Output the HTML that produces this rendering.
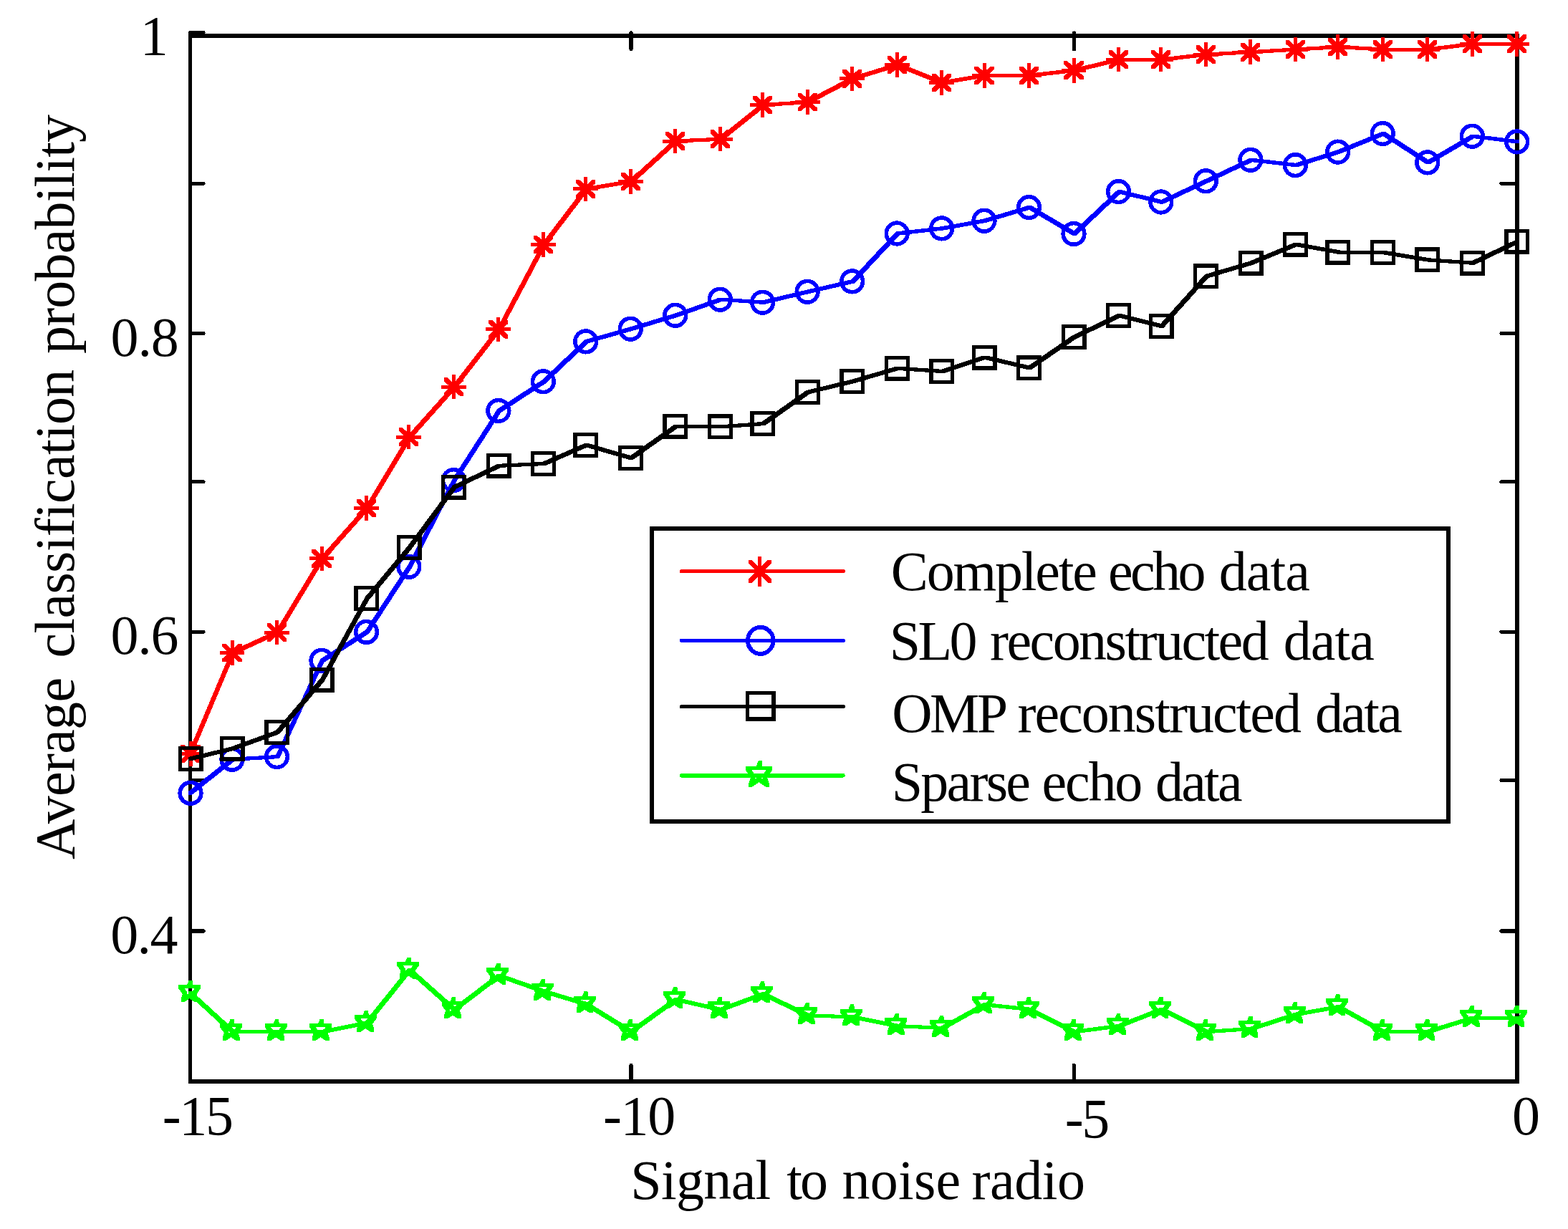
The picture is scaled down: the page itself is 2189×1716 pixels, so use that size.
<!DOCTYPE html>
<html lang="en"><head><meta charset="utf-8"><title>Average classification probability vs signal to noise radio</title>
<style>html,body{margin:0;padding:0;background:#fff}body{width:2189px;height:1716px}svg{display:block}text{font-family:"Liberation Serif","Times New Roman",Times,serif;font-size:78px;fill:#000}</style></head><body>
<svg width="2189" height="1716" viewBox="0 0 2189 1716" shape-rendering="crispEdges">
<rect x="0" y="0" width="2189" height="1716" fill="#fff"/>
<defs>
<path id="ma" d="M-17.40,-2.50L17.40,-2.50L17.40,2.50L-17.40,2.50ZM-2.50,-17.20L2.50,-17.20L2.50,17.20L-2.50,17.20ZM-13.55,-12.85L-8.75,-12.85L13.55,8.05L13.55,12.85L8.75,12.85L-13.55,-8.05ZM-13.55,8.05L8.75,-12.85L13.55,-12.85L13.55,-8.05L-8.75,12.85L-13.55,12.85Z" fill="#f00" stroke="none"/>
<circle id="mc" cx="0" cy="0" r="14.85" fill="none" stroke="#00f" stroke-width="5.6"/>
<rect id="ms" x="-14.85" y="-14.85" width="29.7" height="29.7" fill="none" stroke="#000" stroke-width="5.3"/>
<path id="mp" d="M-2.30,-18.60L2.70,-18.60L3.15,-12.35L3.15,-7.35L-1.85,-7.35L-2.30,-13.60ZM-1.85,-12.35L3.15,-12.35L14.15,-12.35L14.15,-7.35L9.15,-7.35L-1.85,-7.35ZM2.40,-3.00L9.15,-12.35L14.15,-12.35L14.15,-7.35L7.40,2.00L2.40,2.00ZM2.40,-3.00L7.40,-3.00L10.55,6.40L10.55,11.40L5.55,11.40L2.40,2.00ZM-3.85,0.15L1.15,0.15L10.55,6.40L10.55,11.40L5.55,11.40L-3.85,5.15ZM-13.25,6.40L-3.85,0.15L1.15,0.15L1.15,5.15L-8.25,11.40L-13.25,11.40ZM-13.25,6.40L-10.10,-3.00L-5.10,-3.00L-5.10,2.00L-8.25,11.40L-13.25,11.40ZM-16.85,-12.35L-11.85,-12.35L-5.10,-3.00L-5.10,2.00L-10.10,2.00L-16.85,-7.35ZM-16.85,-12.35L-11.85,-12.35L-0.05,-12.35L-0.05,-7.35L-5.05,-7.35L-16.85,-7.35ZM-5.05,-12.35L-2.30,-18.60L2.70,-18.60L2.70,-13.60L-0.05,-7.35L-5.05,-7.35Z" fill="#0f0" stroke="none"/>
</defs>
<g id="axes" stroke="#000" fill="none">
<line x1="263.1" y1="50.0" x2="2120.9" y2="50.0" stroke-width="6.0"/>
<line x1="263.1" y1="1509.8" x2="2120.9" y2="1509.8" stroke-width="6.3"/>
<line x1="265.6" y1="50.0" x2="265.6" y2="1509.8" stroke-width="5.0"/>
<line x1="2117.9" y1="50.0" x2="2117.9" y2="1509.8" stroke-width="6.0"/>
</g>
<g id="ticks" stroke="#000" stroke-width="5.2" stroke-linecap="round" fill="none">
<line x1="265.6" y1="45.6" x2="284.0" y2="45.6"/>
<line x1="265.6" y1="256.2" x2="284.0" y2="256.2"/>
<line x1="2117.9" y1="256.2" x2="2096.0" y2="256.2"/>
<line x1="265.6" y1="465.6" x2="284.0" y2="465.6"/>
<line x1="2117.9" y1="465.6" x2="2096.0" y2="465.6"/>
<line x1="265.6" y1="672.8" x2="284.0" y2="672.8"/>
<line x1="2117.9" y1="672.8" x2="2096.0" y2="672.8"/>
<line x1="265.6" y1="882.2" x2="284.0" y2="882.2"/>
<line x1="2117.9" y1="882.2" x2="2096.0" y2="882.2"/>
<line x1="265.6" y1="1089.6" x2="284.0" y2="1089.6"/>
<line x1="2117.9" y1="1089.6" x2="2096.0" y2="1089.6"/>
<line x1="265.6" y1="1300.0" x2="284.0" y2="1300.0"/>
<line x1="2117.9" y1="1300.0" x2="2096.0" y2="1300.0"/>
<line x1="881.0" y1="1509.8" x2="881.0" y2="1487.4"/>
<line x1="881.0" y1="46.0" x2="881.0" y2="68.7"/>
<line x1="1499.5" y1="1509.8" x2="1499.5" y2="1487.4"/>
<line x1="1499.5" y1="46.0" x2="1499.5" y2="68.7"/>
</g>
<g id="red">
<path d="M263.1,1050.0L322.5,909.0L327.5,909.0L327.5,914.0L268.1,1055.0L263.1,1055.0ZM322.5,909.0L385.0,880.5L390.0,880.5L390.0,885.5L327.5,914.0L322.5,914.0ZM385.0,880.5L447.5,777.3L452.5,777.3L452.5,782.3L390.0,885.5L385.0,885.5ZM447.5,777.3L510.0,707.0L515.0,707.0L515.0,712.0L452.5,782.3L447.5,782.3ZM510.0,707.0L569.4,607.7L574.4,607.7L574.4,612.7L515.0,712.0L510.0,712.0ZM569.4,607.7L631.9,537.7L636.9,537.7L636.9,542.7L574.4,612.7L569.4,612.7ZM631.9,537.7L694.4,457.2L699.4,457.2L699.4,462.2L636.9,542.7L631.9,542.7ZM694.4,457.2L756.9,339.1L761.9,339.1L761.9,344.1L699.4,462.2L694.4,462.2ZM756.9,339.1L816.2,261.4L821.2,261.4L821.2,266.4L761.9,344.1L756.9,344.1ZM816.2,261.4L878.8,250.9L883.8,250.9L883.8,255.9L821.2,266.4L816.2,266.4ZM878.8,250.9L941.2,194.5L946.2,194.5L946.2,199.5L883.8,255.9L878.8,255.9ZM941.2,194.5L1003.8,191.7L1008.8,191.7L1008.8,196.7L946.2,199.5L941.2,199.5ZM1003.8,191.7L1063.1,144.1L1068.1,144.1L1068.1,149.1L1008.8,196.7L1003.8,196.7ZM1063.1,144.1L1125.6,140.0L1130.6,140.0L1130.6,145.0L1068.1,149.1L1063.1,149.1ZM1125.6,140.0L1188.1,107.2L1193.1,107.2L1193.1,112.2L1130.6,145.0L1125.6,145.0ZM1188.1,107.2L1250.6,88.1L1255.6,88.1L1255.6,93.1L1193.1,112.2L1188.1,112.2ZM1250.6,88.1L1255.6,88.1L1318.1,112.9L1318.1,117.9L1313.1,117.9L1250.6,93.1ZM1313.1,112.9L1372.5,102.9L1377.5,102.9L1377.5,107.9L1318.1,117.9L1313.1,117.9ZM1372.5,102.9L1377.5,102.9L1440.0,102.9L1440.0,107.9L1435.0,107.9L1372.5,107.9ZM1435.0,102.9L1497.5,95.8L1502.5,95.8L1502.5,100.8L1440.0,107.9L1435.0,107.9ZM1497.5,95.8L1560.0,80.7L1565.0,80.7L1565.0,85.7L1502.5,100.8L1497.5,100.8ZM1560.0,80.7L1565.0,80.7L1624.4,80.7L1624.4,85.7L1619.4,85.7L1560.0,85.7ZM1619.4,80.7L1681.9,73.6L1686.9,73.6L1686.9,78.6L1624.4,85.7L1619.4,85.7ZM1681.9,73.6L1744.4,70.2L1749.4,70.2L1749.4,75.2L1686.9,78.6L1681.9,78.6ZM1744.4,70.2L1806.9,66.5L1811.9,66.5L1811.9,71.5L1749.4,75.2L1744.4,75.2ZM1806.9,66.5L1866.2,63.1L1871.2,63.1L1871.2,68.1L1811.9,71.5L1806.9,71.5ZM1866.2,63.1L1871.2,63.1L1933.8,66.5L1933.8,71.5L1928.8,71.5L1866.2,68.1ZM1928.8,66.5L1933.8,66.5L1996.2,66.5L1996.2,71.5L1991.2,71.5L1928.8,71.5ZM1991.2,66.5L2053.8,58.8L2058.8,58.8L2058.8,63.8L1996.2,71.5L1991.2,71.5ZM2053.8,58.8L2058.8,58.8L2121.2,58.8L2121.2,63.8L2116.2,63.8L2053.8,63.8Z" fill="#f00" stroke="none"/>
<use href="#ma" x="266.02" y="1052.50"/>
<use href="#ma" x="324.00" y="911.50"/>
<use href="#ma" x="386.50" y="883.00"/>
<use href="#ma" x="449.00" y="779.80"/>
<use href="#ma" x="511.50" y="709.50"/>
<use href="#ma" x="570.88" y="610.20"/>
<use href="#ma" x="633.38" y="540.20"/>
<use href="#ma" x="695.88" y="459.70"/>
<use href="#ma" x="758.38" y="341.60"/>
<use href="#ma" x="817.75" y="263.90"/>
<use href="#ma" x="880.25" y="253.40"/>
<use href="#ma" x="942.75" y="197.00"/>
<use href="#ma" x="1005.25" y="194.20"/>
<use href="#ma" x="1064.62" y="146.60"/>
<use href="#ma" x="1127.12" y="142.50"/>
<use href="#ma" x="1189.62" y="109.70"/>
<use href="#ma" x="1252.12" y="90.60"/>
<use href="#ma" x="1314.62" y="115.40"/>
<use href="#ma" x="1374.00" y="105.40"/>
<use href="#ma" x="1436.50" y="105.40"/>
<use href="#ma" x="1499.00" y="98.30"/>
<use href="#ma" x="1561.50" y="83.20"/>
<use href="#ma" x="1620.88" y="83.20"/>
<use href="#ma" x="1683.38" y="76.10"/>
<use href="#ma" x="1745.88" y="72.70"/>
<use href="#ma" x="1808.38" y="69.00"/>
<use href="#ma" x="1867.75" y="65.60"/>
<use href="#ma" x="1930.25" y="69.00"/>
<use href="#ma" x="1992.75" y="69.00"/>
<use href="#ma" x="2055.25" y="61.30"/>
<use href="#ma" x="2117.75" y="61.30"/>
</g>
<g id="blue">
<path d="M263.1,1104.8L322.5,1057.8L327.5,1057.8L327.5,1062.8L268.1,1109.8L263.1,1109.8ZM322.5,1057.8L385.0,1054.1L390.0,1054.1L390.0,1059.1L327.5,1062.8L322.5,1062.8ZM385.0,1054.1L447.5,919.8L452.5,919.8L452.5,924.8L390.0,1059.1L385.0,1059.1ZM447.5,919.8L510.0,879.9L515.0,879.9L515.0,884.9L452.5,924.8L447.5,924.8ZM510.0,879.9L569.4,788.8L574.4,788.8L574.4,793.8L515.0,884.9L510.0,884.9ZM569.4,788.8L631.9,668.0L636.9,668.0L636.9,673.0L574.4,793.8L569.4,793.8ZM631.9,668.0L694.4,571.0L699.4,571.0L699.4,576.0L636.9,673.0L631.9,673.0ZM694.4,571.0L756.9,530.3L761.9,530.3L761.9,535.3L699.4,576.0L694.4,576.0ZM756.9,530.3L816.2,474.4L821.2,474.4L821.2,479.4L761.9,535.3L756.9,535.3ZM816.2,474.4L878.8,456.7L883.8,456.7L883.8,461.7L821.2,479.4L816.2,479.4ZM878.8,456.7L941.2,437.8L946.2,437.8L946.2,442.8L883.8,461.7L878.8,461.7ZM941.2,437.8L1003.8,415.7L1008.8,415.7L1008.8,420.7L946.2,442.8L941.2,442.8ZM1003.8,415.7L1008.8,415.7L1068.1,419.7L1068.1,424.7L1063.1,424.7L1003.8,420.7ZM1063.1,419.7L1125.6,404.8L1130.6,404.8L1130.6,409.8L1068.1,424.7L1063.1,424.7ZM1125.6,404.8L1188.1,390.4L1193.1,390.4L1193.1,395.4L1130.6,409.8L1125.6,409.8ZM1188.1,390.4L1250.6,323.5L1255.6,323.5L1255.6,328.5L1193.1,395.4L1188.1,395.4ZM1250.6,323.5L1313.1,316.4L1318.1,316.4L1318.1,321.4L1255.6,328.5L1250.6,328.5ZM1313.1,316.4L1372.5,305.7L1377.5,305.7L1377.5,310.7L1318.1,321.4L1313.1,321.4ZM1372.5,305.7L1435.0,287.0L1440.0,287.0L1440.0,292.0L1377.5,310.7L1372.5,310.7ZM1435.0,287.0L1440.0,287.0L1502.5,324.0L1502.5,329.0L1497.5,329.0L1435.0,292.0ZM1497.5,324.0L1560.0,265.1L1565.0,265.1L1565.0,270.1L1502.5,329.0L1497.5,329.0ZM1560.0,265.1L1565.0,265.1L1624.4,279.5L1624.4,284.5L1619.4,284.5L1560.0,270.1ZM1619.4,279.5L1681.9,250.3L1686.9,250.3L1686.9,255.3L1624.4,284.5L1619.4,284.5ZM1681.9,250.3L1744.4,220.8L1749.4,220.8L1749.4,225.8L1686.9,255.3L1681.9,255.3ZM1744.4,220.8L1749.4,220.8L1811.9,228.1L1811.9,233.1L1806.9,233.1L1744.4,225.8ZM1806.9,228.1L1866.2,209.6L1871.2,209.6L1871.2,214.6L1811.9,233.1L1806.9,233.1ZM1866.2,209.6L1928.8,184.0L1933.8,184.0L1933.8,189.0L1871.2,214.6L1866.2,214.6ZM1928.8,184.0L1933.8,184.0L1996.2,224.4L1996.2,229.4L1991.2,229.4L1928.8,189.0ZM1991.2,224.4L2053.8,187.7L2058.8,187.7L2058.8,192.7L1996.2,229.4L1991.2,229.4ZM2053.8,187.7L2058.8,187.7L2121.2,195.4L2121.2,200.4L2116.2,200.4L2053.8,192.7Z" fill="#00f" stroke="none"/>
<use href="#mc" x="266.02" y="1107.30"/>
<use href="#mc" x="324.00" y="1060.30"/>
<use href="#mc" x="386.50" y="1056.60"/>
<use href="#mc" x="449.00" y="922.30"/>
<use href="#mc" x="511.50" y="882.40"/>
<use href="#mc" x="570.88" y="791.30"/>
<use href="#mc" x="633.38" y="670.50"/>
<use href="#mc" x="695.88" y="573.50"/>
<use href="#mc" x="758.38" y="532.80"/>
<use href="#mc" x="817.75" y="476.90"/>
<use href="#mc" x="880.25" y="459.20"/>
<use href="#mc" x="942.75" y="440.30"/>
<use href="#mc" x="1005.25" y="418.20"/>
<use href="#mc" x="1064.62" y="422.20"/>
<use href="#mc" x="1127.12" y="407.30"/>
<use href="#mc" x="1189.62" y="392.90"/>
<use href="#mc" x="1252.12" y="326.00"/>
<use href="#mc" x="1314.62" y="318.90"/>
<use href="#mc" x="1374.00" y="308.20"/>
<use href="#mc" x="1436.50" y="289.50"/>
<use href="#mc" x="1499.00" y="326.50"/>
<use href="#mc" x="1561.50" y="267.60"/>
<use href="#mc" x="1620.88" y="282.00"/>
<use href="#mc" x="1683.38" y="252.80"/>
<use href="#mc" x="1745.88" y="223.30"/>
<use href="#mc" x="1808.38" y="230.60"/>
<use href="#mc" x="1867.75" y="212.10"/>
<use href="#mc" x="1930.25" y="186.50"/>
<use href="#mc" x="1992.75" y="226.90"/>
<use href="#mc" x="2055.25" y="190.20"/>
<use href="#mc" x="2117.75" y="197.90"/>
</g>
<g id="black">
<path d="M263.1,1057.0L322.5,1042.7L327.5,1042.7L327.5,1047.7L268.1,1062.0L263.1,1062.0ZM322.5,1042.7L385.0,1019.9L390.0,1019.9L390.0,1024.9L327.5,1047.7L322.5,1047.7ZM385.0,1019.9L447.5,946.8L452.5,946.8L452.5,951.8L390.0,1024.9L385.0,1024.9ZM447.5,946.8L510.0,833.1L515.0,833.1L515.0,838.1L452.5,951.8L447.5,951.8ZM510.0,833.1L569.4,762.0L574.4,762.0L574.4,767.0L515.0,838.1L510.0,838.1ZM569.4,762.0L631.9,677.7L636.9,677.7L636.9,682.7L574.4,767.0L569.4,767.0ZM631.9,677.7L694.4,647.8L699.4,647.8L699.4,652.8L636.9,682.7L631.9,682.7ZM694.4,647.8L756.9,645.0L761.9,645.0L761.9,650.0L699.4,652.8L694.4,652.8ZM756.9,645.0L816.2,618.9L821.2,618.9L821.2,623.9L761.9,650.0L756.9,650.0ZM816.2,618.9L821.2,618.9L883.8,637.0L883.8,642.0L878.8,642.0L816.2,623.9ZM878.8,637.0L941.2,592.8L946.2,592.8L946.2,597.8L883.8,642.0L878.8,642.0ZM941.2,592.8L946.2,592.8L1008.8,593.4L1008.8,598.4L1003.8,598.4L941.2,597.8ZM1003.8,593.4L1063.1,589.1L1068.1,589.1L1068.1,594.1L1008.8,598.4L1003.8,598.4ZM1063.1,589.1L1125.6,545.0L1130.6,545.0L1130.6,550.0L1068.1,594.1L1063.1,594.1ZM1125.6,545.0L1188.1,530.0L1193.1,530.0L1193.1,535.0L1130.6,550.0L1125.6,550.0ZM1188.1,530.0L1250.6,511.8L1255.6,511.8L1255.6,516.8L1193.1,535.0L1188.1,535.0ZM1250.6,511.8L1255.6,511.8L1318.1,516.0L1318.1,521.0L1313.1,521.0L1250.6,516.8ZM1313.1,516.0L1372.5,496.5L1377.5,496.5L1377.5,501.5L1318.1,521.0L1313.1,521.0ZM1372.5,496.5L1377.5,496.5L1440.0,511.2L1440.0,516.2L1435.0,516.2L1372.5,501.5ZM1435.0,511.2L1497.5,468.0L1502.5,468.0L1502.5,473.0L1440.0,516.2L1435.0,516.2ZM1497.5,468.0L1560.0,438.1L1565.0,438.1L1565.0,443.1L1502.5,473.0L1497.5,473.0ZM1560.0,438.1L1565.0,438.1L1624.4,452.9L1624.4,457.9L1619.4,457.9L1560.0,443.1ZM1619.4,452.9L1681.9,383.2L1686.9,383.2L1686.9,388.2L1624.4,457.9L1619.4,457.9ZM1681.9,383.2L1744.4,364.7L1749.4,364.7L1749.4,369.7L1686.9,388.2L1681.9,388.2ZM1744.4,364.7L1806.9,338.8L1811.9,338.8L1811.9,343.8L1749.4,369.7L1744.4,369.7ZM1806.9,338.8L1811.9,338.8L1871.2,349.5L1871.2,354.5L1866.2,354.5L1806.9,343.8ZM1866.2,349.5L1871.2,349.5L1933.8,349.9L1933.8,354.9L1928.8,354.9L1866.2,354.5ZM1928.8,349.9L1933.8,349.9L1996.2,360.4L1996.2,365.4L1991.2,365.4L1928.8,354.9ZM1991.2,360.4L1996.2,360.4L2058.8,364.7L2058.8,369.7L2053.8,369.7L1991.2,365.4ZM2053.8,364.7L2116.2,334.8L2121.2,334.8L2121.2,339.8L2058.8,369.7L2053.8,369.7Z" fill="#000" stroke="none"/>
<use href="#ms" x="266.22" y="1059.50"/>
<use href="#ms" x="324.20" y="1045.20"/>
<use href="#ms" x="386.70" y="1022.40"/>
<use href="#ms" x="449.20" y="949.30"/>
<use href="#ms" x="511.70" y="835.60"/>
<use href="#ms" x="571.08" y="764.50"/>
<use href="#ms" x="633.58" y="680.20"/>
<use href="#ms" x="696.08" y="650.30"/>
<use href="#ms" x="758.58" y="647.50"/>
<use href="#ms" x="817.95" y="621.40"/>
<use href="#ms" x="880.45" y="639.50"/>
<use href="#ms" x="942.95" y="595.30"/>
<use href="#ms" x="1005.45" y="595.90"/>
<use href="#ms" x="1064.83" y="591.60"/>
<use href="#ms" x="1127.33" y="547.50"/>
<use href="#ms" x="1189.83" y="532.50"/>
<use href="#ms" x="1252.33" y="514.30"/>
<use href="#ms" x="1314.83" y="518.50"/>
<use href="#ms" x="1374.20" y="499.00"/>
<use href="#ms" x="1436.70" y="513.70"/>
<use href="#ms" x="1499.20" y="470.50"/>
<use href="#ms" x="1561.70" y="440.60"/>
<use href="#ms" x="1621.08" y="455.40"/>
<use href="#ms" x="1683.58" y="385.70"/>
<use href="#ms" x="1746.08" y="367.20"/>
<use href="#ms" x="1808.58" y="341.30"/>
<use href="#ms" x="1867.95" y="352.00"/>
<use href="#ms" x="1930.45" y="352.45"/>
<use href="#ms" x="1992.95" y="362.90"/>
<use href="#ms" x="2055.45" y="367.20"/>
<use href="#ms" x="2117.95" y="337.30"/>
</g>
<g id="green">
<path d="M263.1,1384.0L268.1,1384.0L327.5,1438.1L327.5,1443.1L322.5,1443.1L263.1,1389.0ZM322.5,1438.1L327.5,1438.1L390.0,1438.1L390.0,1443.1L385.0,1443.1L322.5,1443.1ZM385.0,1438.1L390.0,1438.1L452.5,1438.1L452.5,1443.1L447.5,1443.1L385.0,1443.1ZM447.5,1438.1L510.0,1425.8L515.0,1425.8L515.0,1430.8L452.5,1443.1L447.5,1443.1ZM510.0,1425.8L569.4,1351.8L574.4,1351.8L574.4,1356.8L515.0,1430.8L510.0,1430.8ZM569.4,1351.8L574.4,1351.8L636.9,1407.3L636.9,1412.3L631.9,1412.3L569.4,1356.8ZM631.9,1407.3L694.4,1359.8L699.4,1359.8L699.4,1364.8L636.9,1412.3L631.9,1412.3ZM694.4,1359.8L699.4,1359.8L761.9,1381.7L761.9,1386.7L756.9,1386.7L694.4,1364.8ZM756.9,1381.7L761.9,1381.7L821.2,1399.6L821.2,1404.6L816.2,1404.6L756.9,1386.7ZM816.2,1399.6L821.2,1399.6L883.8,1438.1L883.8,1443.1L878.8,1443.1L816.2,1404.6ZM878.8,1438.1L941.2,1393.1L946.2,1393.1L946.2,1398.1L883.8,1443.1L878.8,1443.1ZM941.2,1393.1L946.2,1393.1L1008.8,1407.3L1008.8,1412.3L1003.8,1412.3L941.2,1398.1ZM1003.8,1407.3L1063.1,1385.4L1068.1,1385.4L1068.1,1390.4L1008.8,1412.3L1003.8,1412.3ZM1063.1,1385.4L1068.1,1385.4L1130.6,1415.3L1130.6,1420.3L1125.6,1420.3L1063.1,1390.4ZM1125.6,1415.3L1130.6,1415.3L1193.1,1417.5L1193.1,1422.5L1188.1,1422.5L1125.6,1420.3ZM1188.1,1417.5L1193.1,1417.5L1255.6,1430.1L1255.6,1435.1L1250.6,1435.1L1188.1,1422.5ZM1250.6,1430.1L1255.6,1430.1L1318.1,1432.9L1318.1,1437.9L1313.1,1437.9L1250.6,1435.1ZM1313.1,1432.9L1372.5,1400.2L1377.5,1400.2L1377.5,1405.2L1318.1,1437.9L1313.1,1437.9ZM1372.5,1400.2L1377.5,1400.2L1440.0,1406.8L1440.0,1411.8L1435.0,1411.8L1372.5,1405.2ZM1435.0,1406.8L1440.0,1406.8L1502.5,1438.1L1502.5,1443.1L1497.5,1443.1L1435.0,1411.8ZM1497.5,1438.1L1560.0,1430.1L1565.0,1430.1L1565.0,1435.1L1502.5,1443.1L1497.5,1443.1ZM1560.0,1430.1L1619.4,1406.8L1624.4,1406.8L1624.4,1411.8L1565.0,1435.1L1560.0,1435.1ZM1619.4,1406.8L1624.4,1406.8L1686.9,1438.1L1686.9,1443.1L1681.9,1443.1L1619.4,1411.8ZM1681.9,1438.1L1744.4,1434.0L1749.4,1434.0L1749.4,1439.0L1686.9,1443.1L1681.9,1443.1ZM1744.4,1434.0L1806.9,1413.9L1811.9,1413.9L1811.9,1418.9L1749.4,1439.0L1744.4,1439.0ZM1806.9,1413.9L1866.2,1403.3L1871.2,1403.3L1871.2,1408.3L1811.9,1418.9L1806.9,1418.9ZM1866.2,1403.3L1871.2,1403.3L1933.8,1438.1L1933.8,1443.1L1928.8,1443.1L1866.2,1408.3ZM1928.8,1438.1L1933.8,1438.1L1996.2,1438.1L1996.2,1443.1L1991.2,1443.1L1928.8,1443.1ZM1991.2,1438.1L2053.8,1418.7L2058.8,1418.7L2058.8,1423.7L1996.2,1443.1L1991.2,1443.1ZM2053.8,1418.7L2058.8,1418.7L2121.2,1418.7L2121.2,1423.7L2116.2,1423.7L2053.8,1423.7Z" fill="#0f0" stroke="none"/>
<use href="#mp" x="266.02" y="1387.50"/>
<use href="#mp" x="324.00" y="1441.60"/>
<use href="#mp" x="386.50" y="1441.60"/>
<use href="#mp" x="449.00" y="1441.60"/>
<use href="#mp" x="511.50" y="1429.30"/>
<use href="#mp" x="570.88" y="1355.30"/>
<use href="#mp" x="633.38" y="1410.80"/>
<use href="#mp" x="695.88" y="1363.30"/>
<use href="#mp" x="758.38" y="1385.20"/>
<use href="#mp" x="817.75" y="1403.10"/>
<use href="#mp" x="880.25" y="1441.60"/>
<use href="#mp" x="942.75" y="1396.60"/>
<use href="#mp" x="1005.25" y="1410.80"/>
<use href="#mp" x="1064.62" y="1388.90"/>
<use href="#mp" x="1127.12" y="1418.80"/>
<use href="#mp" x="1189.62" y="1421.00"/>
<use href="#mp" x="1252.12" y="1433.60"/>
<use href="#mp" x="1314.62" y="1436.40"/>
<use href="#mp" x="1374.00" y="1403.70"/>
<use href="#mp" x="1436.50" y="1410.30"/>
<use href="#mp" x="1499.00" y="1441.60"/>
<use href="#mp" x="1561.50" y="1433.60"/>
<use href="#mp" x="1620.88" y="1410.30"/>
<use href="#mp" x="1683.38" y="1441.60"/>
<use href="#mp" x="1745.88" y="1437.50"/>
<use href="#mp" x="1808.38" y="1417.40"/>
<use href="#mp" x="1867.75" y="1406.80"/>
<use href="#mp" x="1930.25" y="1441.60"/>
<use href="#mp" x="1992.75" y="1441.60"/>
<use href="#mp" x="2055.25" y="1422.20"/>
<use href="#mp" x="2117.75" y="1422.20"/>
</g>
<g id="legend">
<rect x="910.4" y="738.3" width="1111.6" height="409.0" fill="#fff" stroke="#000" stroke-width="6.0"/>
<line x1="951.5" y1="797.7" x2="1177.0" y2="797.7" stroke="#f00" stroke-width="5.4" stroke-linecap="round"/>
<path d="M-15.50,-2.50L15.50,-2.50L15.50,2.50L-15.50,2.50ZM-2.50,-21.00L2.50,-21.00L2.50,21.00L-2.50,21.00ZM-16.00,-15.80L-11.20,-15.80L16.00,11.00L16.00,15.80L11.20,15.80L-16.00,-11.00ZM-16.00,11.00L11.20,-15.80L16.00,-15.80L16.00,-11.00L-11.20,15.80L-16.00,15.80Z" transform="translate(1060.8,797.7)" fill="#f00" stroke="none"/>
<line x1="951.5" y1="894.4" x2="1177.0" y2="894.4" stroke="#00f" stroke-width="5.4" stroke-linecap="round"/>
<ellipse cx="1061.75" cy="894.4" rx="17.8" ry="18.55" fill="none" stroke="#00f" stroke-width="5.9"/>
<line x1="951.5" y1="986.6" x2="1177.0" y2="986.6" stroke="#000" stroke-width="5.4" stroke-linecap="round"/>
<rect x="1043.7" y="967.6999999999999" width="36.4" height="36.4" fill="none" stroke="#000" stroke-width="5.3"/>
<line x1="951.5" y1="1082.8" x2="1177.0" y2="1082.8" stroke="#0f0" stroke-width="5.4" stroke-linecap="round"/>
<path d="M-0.55,-18.25L4.45,-18.25L5.02,-10.38L5.02,-5.38L0.02,-5.38L-0.55,-13.25ZM0.02,-10.38L5.02,-10.38L18.88,-10.38L18.88,-5.38L13.88,-5.38L0.02,-5.38ZM5.38,1.41L13.88,-10.38L18.88,-10.38L18.88,-5.38L10.38,6.41L5.38,6.41ZM5.38,1.41L10.38,1.41L14.34,13.25L14.34,18.25L9.34,18.25L5.38,6.41ZM-2.50,5.38L2.50,5.38L14.34,13.25L14.34,18.25L9.34,18.25L-2.50,10.38ZM-14.34,13.25L-2.50,5.38L2.50,5.38L2.50,10.38L-9.34,18.25L-14.34,18.25ZM-14.34,13.25L-10.38,1.41L-5.38,1.41L-5.38,6.41L-9.34,18.25L-14.34,18.25ZM-18.88,-10.38L-13.88,-10.38L-5.38,1.41L-5.38,6.41L-10.38,6.41L-18.88,-5.38ZM-18.88,-10.38L-13.88,-10.38L0.99,-10.38L0.99,-5.38L-4.01,-5.38L-18.88,-5.38ZM-4.01,-10.38L-0.55,-18.25L4.45,-18.25L4.45,-13.25L0.99,-5.38L-4.01,-5.38Z" transform="translate(1059.5,1080.45)" fill="#0f0" stroke="none"/>
</g>
<text id="leg0" y="824.00"><tspan x="1243.85" letter-spacing="-2.186">Complete</tspan> <tspan x="1547.10" letter-spacing="-3.650">echo</tspan> <tspan x="1701.85" letter-spacing="-1.000">data</tspan></text>
<text id="leg1" y="921.00"><tspan x="1241.85" letter-spacing="-3.675">SL0</tspan> <tspan x="1382.10" letter-spacing="-2.546">reconstructed</tspan> <tspan x="1791.85" letter-spacing="-1.000">data</tspan></text>
<text id="leg2" y="1021.60"><tspan x="1245.25" letter-spacing="-3.575">OMP</tspan> <tspan x="1420.60" letter-spacing="-1.987">reconstructed</tspan> <tspan x="1835.95" letter-spacing="-2.700">data</tspan></text>
<text id="leg3" y="1118.00"><tspan x="1244.65" letter-spacing="-2.720">Sparse</tspan> <tspan x="1454.60" letter-spacing="-2.183">echo</tspan> <tspan x="1612.95" letter-spacing="-2.767">data</tspan></text>
<text id="xlabel" y="1674.40"><tspan x="880.25" letter-spacing="-0.660">Signal</tspan> <tspan x="1098.15" letter-spacing="-2.900">to</tspan> <tspan x="1175.45" letter-spacing="0.262">noise</tspan> <tspan x="1356.40" letter-spacing="-0.413">radio</tspan></text>
<text id="ylabel" transform="translate(102.60,0) rotate(-90)" y="0"><tspan x="-1200.05" letter-spacing="-0.717">Average</tspan> <tspan x="-918.50" letter-spacing="-0.665">classification</tspan> <tspan x="-494.05" letter-spacing="-0.815">probability</tspan></text>
<text id="xt0" y="1584.20"><tspan x="226.70" letter-spacing="-2.300">-15</tspan></text>
<text id="xt1" y="1584.20"><tspan x="842.10" letter-spacing="-1.450">-10</tspan></text>
<text id="xt2" y="1587.50"><tspan x="1486.80" letter-spacing="-2.600">-5</tspan></text>
<text id="xt3" y="1584.20"><tspan x="2110.95" letter-spacing="0.000">0</tspan></text>
<text id="yt0" y="76.30"><tspan x="195.70" letter-spacing="0.000">1</tspan></text>
<text id="yt1" y="496.80"><tspan x="154.50" letter-spacing="-1.100">0.8</tspan></text>
<text id="yt2" y="913.40"><tspan x="154.50" letter-spacing="-1.225">0.6</tspan></text>
<text id="yt3" y="1330.90"><tspan x="154.20" letter-spacing="-1.625">0.4</tspan></text>
</svg></body></html>
